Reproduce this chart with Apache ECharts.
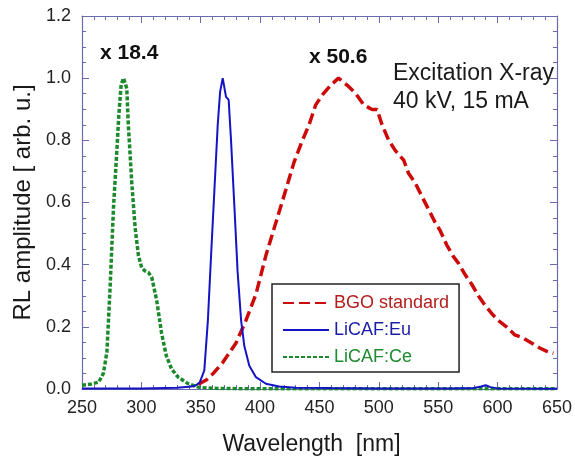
<!DOCTYPE html>
<html>
<head>
<meta charset="utf-8">
<script src="https://cdn.jsdelivr.net/npm/echarts@6/dist/echarts.min.js"></script>
<style>
  html, body { margin: 0; padding: 0; background: #fff; }
  #chart { width: 575px; height: 461px; }
</style>
</head>
<body>
<div id="chart"></div>
<script>
// Radioluminescence spectra under X-ray excitation, each normalised to its peak.
const xTicks = [250, 300, 350, 400, 450, 500, 550, 600, 650];
const yTicks = [0.0, 0.2, 0.4, 0.6, 0.8, 1.0, 1.2];

const bgoWl  = [348, 355, 360, 368.5, 379.7, 388, 396.5, 404.9, 413.3, 421.6, 428.6, 435.6, 441.2, 446.8, 452.4, 459.4, 466, 473.4, 480.4, 487.3, 494.3, 498.5, 502.7, 508.3, 513.9, 520.9, 525, 530.7, 536.2, 541.8, 547.4, 551.6, 557.2, 562.8, 567, 572.6, 578.2, 583.8, 589.4, 595, 600.5, 607.5, 614.5, 621.5, 628.5, 635.5, 641, 645.3, 647];
const bgoAmp = [0.015, 0.03, 0.048, 0.085, 0.148, 0.22, 0.305, 0.43, 0.536, 0.64, 0.73, 0.80, 0.85, 0.914, 0.946, 0.977, 1.0, 0.977, 0.951, 0.914, 0.899, 0.899, 0.85, 0.80, 0.767, 0.736, 0.694, 0.662, 0.62, 0.578, 0.536, 0.51, 0.463, 0.426, 0.405, 0.368, 0.337, 0.30, 0.269, 0.243, 0.221, 0.20, 0.174, 0.164, 0.148, 0.132, 0.122, 0.117, 0.115];

const euWl  = [250, 300, 330, 340, 345, 349, 353, 356, 358.7, 361.5, 364.3, 366.3, 368.5, 371.3, 373.5, 375.5, 378.3, 381, 384, 386.7, 390.9, 396.5, 404.9, 416, 430, 460, 500, 560, 580, 586, 590, 594, 600, 650];
const euAmp = [0.002, 0.002, 0.004, 0.007, 0.01, 0.02, 0.06, 0.22, 0.43, 0.64, 0.85, 0.956, 1.0, 0.94, 0.93, 0.80, 0.59, 0.38, 0.22, 0.138, 0.075, 0.038, 0.017, 0.008, 0.004, 0.003, 0.002, 0.002, 0.003, 0.008, 0.012, 0.006, 0.002, 0.001];

const ceWl  = [250, 258, 264, 268, 271, 273.7, 276.6, 279.4, 281, 283, 285, 287.7, 289, 292, 294.7, 297.5, 300.3, 303, 305.9, 308.7, 312.9, 317, 321, 325.5, 331, 339.4, 347.8, 355, 365, 380, 420, 500, 600, 650];
const ceAmp = [0.012, 0.016, 0.022, 0.05, 0.12, 0.33, 0.59, 0.77, 0.88, 0.98, 1.0, 0.967, 0.85, 0.66, 0.52, 0.43, 0.39, 0.38, 0.375, 0.36, 0.285, 0.18, 0.107, 0.064, 0.038, 0.017, 0.006, 0.003, 0.002, 0.001, 0.001, 0.001, 0.001, 0.001];

const seriesNames = ['BGO standard', 'LiCAF:Eu', 'LiCAF:Ce'];
const scaleNotes = ['x 18.4', 'x 50.6'];
const conditionLines = ['Excitation X-ray', '40 kV, 15 mA'];

const pairs = (xs, ys) => xs.map((x, i) => [x, ys[i]]);

const FONT = '"Liberation Sans", Arial, sans-serif';
const FRAME = '#6a6aae';

const baseX = {
  type: 'value', min: xTicks[0], max: xTicks[xTicks.length - 1], interval: 50,
  axisLine: { show: true, onZero: false, lineStyle: { color: FRAME, width: 1.2 } },
  axisTick: { show: true, inside: true, length: 7, lineStyle: { color: FRAME } },
  minorTick: { show: true, splitNumber: 5, length: 4, lineStyle: { color: FRAME } },
  splitLine: { show: false }
};
const baseY = {
  type: 'value', min: yTicks[0], max: yTicks[yTicks.length - 1], interval: 0.2,
  axisLine: { show: true, onZero: false, lineStyle: { color: FRAME, width: 1.2 } },
  axisTick: { show: true, inside: true, length: 7, lineStyle: { color: FRAME } },
  minorTick: { show: true, splitNumber: 4, length: 4, lineStyle: { color: FRAME } },
  splitLine: { show: false }
};

const chart = echarts.init(document.getElementById('chart'), null, { renderer: 'canvas' });
chart.setOption({
  animation: false,
  backgroundColor: '#ffffff',
  textStyle: { fontFamily: FONT },
  grid: { left: 82, right: 16, top: 16, bottom: 64 },
  xAxis: [
    Object.assign({}, baseX, {
      position: 'bottom',
      name: 'Wavelength  [nm]', nameLocation: 'middle', nameGap: 44,
      nameTextStyle: { fontSize: 23, color: '#1a1a1a', fontFamily: FONT, padding: [0, 16, 0, 0] },
      axisLabel: { fontSize: 18, color: '#222', margin: 10, fontFamily: FONT,
                   formatter: v => String(v) }
    }),
    Object.assign({}, baseX, { position: 'top', axisLabel: { show: false } })
  ],
  yAxis: [
    Object.assign({}, baseY, {
      position: 'left',
      name: 'RL amplitude [ arb. u.]', nameLocation: 'middle', nameGap: 46,
      nameTextStyle: { fontSize: 24, color: '#1a1a1a', fontFamily: FONT },
      axisLabel: { fontSize: 18, color: '#222', margin: 11, fontFamily: FONT,
                   formatter: v => v.toFixed(1) }
    }),
    Object.assign({}, baseY, { position: 'right', axisLabel: { show: false } })
  ],
  legend: {
    orient: 'vertical', left: 272, top: 284,
    padding: [10, 10, 6, 10], itemGap: 9, itemWidth: 46, itemHeight: 14,
    borderColor: '#222', borderWidth: 1.5, backgroundColor: '#fff',
    itemStyle: { opacity: 0 },
    textStyle: { fontSize: 18, fontFamily: FONT },
    data: [
      { name: seriesNames[0], textStyle: { color: '#b51d1d' } },
      { name: seriesNames[1], textStyle: { color: '#1c1cab' } },
      { name: seriesNames[2], textStyle: { color: '#1f8a30' } }
    ]
  },
  series: [
    {
      name: seriesNames[0], type: 'line', data: pairs(bgoWl, bgoAmp),
      showSymbol: false, symbol: 'none', color: '#cc0a0a', z: 2,
      lineStyle: { width: 3.5, type: [11, 5], color: '#cc0a0a' }
    },
    {
      name: seriesNames[2], type: 'line', data: pairs(ceWl, ceAmp),
      showSymbol: false, symbol: 'none', color: '#1c8a2c', z: 3,
      lineStyle: { width: 3.5, type: [4, 2], color: '#1c8a2c' }
    },
    {
      name: seriesNames[1], type: 'line', data: pairs(euWl, euAmp),
      showSymbol: false, symbol: 'none', color: '#1414c4', z: 4,
      lineStyle: { width: 2, type: 'solid', color: '#1414c4' }
    }
  ],
  graphic: [
    { type: 'text', x: 100, y: 53, z: 10,
      style: { text: scaleNotes[0], font: 'bold 21px ' + FONT, fill: '#111', verticalAlign: 'middle' } },
    { type: 'text', x: 309, y: 57, z: 10,
      style: { text: scaleNotes[1], font: 'bold 21px ' + FONT, fill: '#111', verticalAlign: 'middle' } },
    { type: 'text', x: 393, y: 74, z: 10,
      style: { text: conditionLines[0], font: '23px ' + FONT, fill: '#1a1a1a', verticalAlign: 'middle' } },
    { type: 'text', x: 393, y: 102, z: 10,
      style: { text: conditionLines[1], font: '23px ' + FONT, fill: '#1a1a1a', verticalAlign: 'middle' } }
  ]
});
</script>
</body>
</html>
